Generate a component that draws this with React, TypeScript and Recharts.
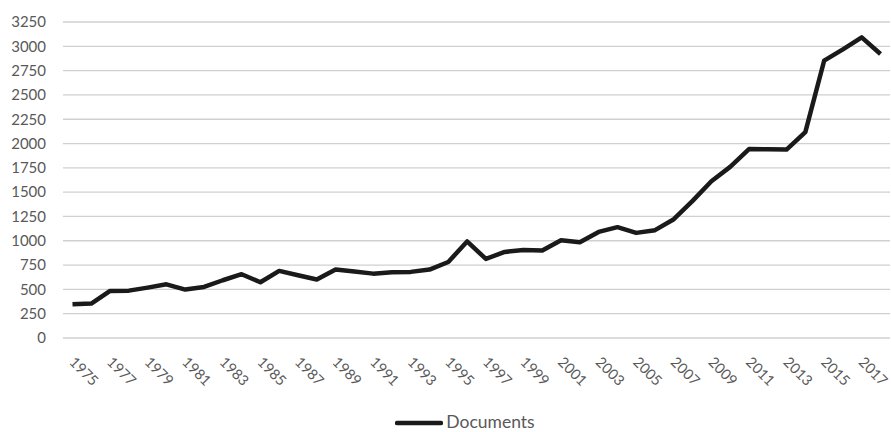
import { CartesianGrid, Legend, Line, LineChart, XAxis, YAxis } from 'recharts';

const years = [
  '1975', '1976', '1977', '1978', '1979', '1980', '1981', '1982', '1983', '1984', '1985',
  '1986', '1987', '1988', '1989', '1990', '1991', '1992', '1993', '1994', '1995', '1996',
  '1997', '1998', '1999', '2000', '2001', '2002', '2003', '2004', '2005', '2006', '2007',
  '2008', '2009', '2010', '2011', '2012', '2013', '2014', '2015', '2016', '2017', '2018',
];

const documents = [
  347, 354, 484, 487, 518, 552, 498, 525, 594, 656, 573,
  690, 645, 601, 704, 683, 662, 676, 680, 704, 782, 993,
  813, 885, 906, 899, 1006, 985, 1091, 1140, 1081, 1109, 1222,
  1410, 1612, 1760, 1943, 1940, 1938, 2118, 2852, 2969, 3092, 2921,
];

const yTicks = [0, 250, 500, 750, 1000, 1250, 1500, 1750, 2000, 2250, 2500, 2750, 3000, 3250];

const chartData = years.map((year, i) => ({ year, Documents: documents[i] }));

const FONT = 'Lato, "DejaVu Sans", sans-serif';
const TEXT = '#595959';

const YearTick = ({ x, y, payload }: any) => (
  <text
    x={x - 4}
    y={y + 23}
    transform={`rotate(45, ${x - 4}, ${y + 23})`}
    textAnchor="start"
    fill={TEXT}
    fontSize={14.5}
    fontFamily={FONT}
  >
    {payload.value}
  </text>
);

const LegendContent = () => (
  <div
    style={{
      height: 34,
      boxSizing: 'border-box',
      paddingTop: 14,
      paddingLeft: 40,
      display: 'flex',
      justifyContent: 'center',
      alignItems: 'center',
      fontFamily: FONT,
      fontSize: 17.5,
      color: TEXT,
    }}
  >
    <svg width={48} height={16} style={{ marginRight: 3, marginTop: 2 }}>
      <line x1={2} y1={8} x2={46} y2={8} stroke="#1a1a1a" strokeWidth={4.5} strokeLinecap="round" />
    </svg>
    <span style={{ lineHeight: '20px' }}>Documents</span>
  </div>
);

export default function App() {
  return (
    <div style={{ position: 'absolute', left: 0, top: 0, background: '#fff' }}>
      <LineChart width={891} height={432} data={chartData} margin={{ top: 22, right: 1, left: 0, bottom: 0 }}>
        <CartesianGrid vertical={false} stroke="#d0d0d0" strokeWidth={1.3} />
        <XAxis
          dataKey="year"
          interval={1}
          padding={{ left: 9.5, right: 9.5 }}
          axisLine={false}
          tickLine={false}
          tickSize={0}
          height={60}
          tick={<YearTick />}
        />
        <YAxis
          domain={[0, 3250]}
          ticks={yTicks}
          interval={0}
          width={63}
          axisLine={false}
          tickLine={false}
          tickSize={0}
          tickMargin={17}
          tick={{ fill: TEXT, fontSize: 15, fontFamily: FONT }}
        />
        <Legend verticalAlign="bottom" content={<LegendContent />} />
        <Line
          type="linear"
          dataKey="Documents"
          stroke="#1a1a1a"
          strokeWidth={4.5}
          strokeLinejoin="round"
          dot={false}
          activeDot={false}
          isAnimationActive={false}
        />
      </LineChart>
    </div>
  );
}
